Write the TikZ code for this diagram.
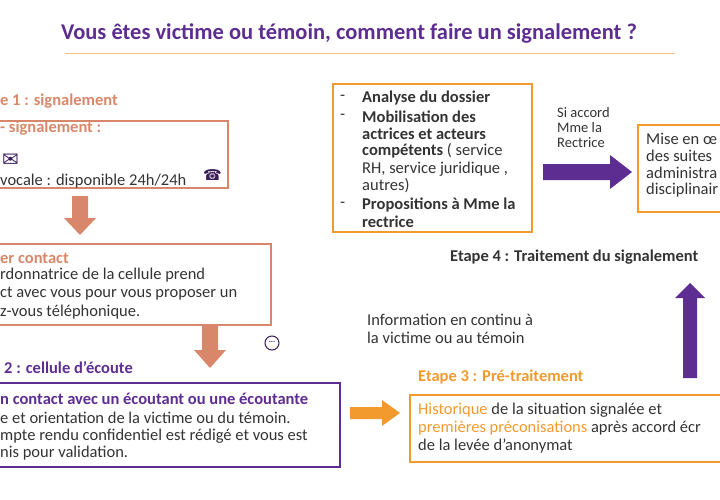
\documentclass[tikz,border=0pt]{standalone}
\usepackage{fontspec}
\setmainfont{Carlito}
\newfontfamily\djv{DejaVu Sans}
\begin{document}
\definecolor{pur}{HTML}{5E2D91}
\definecolor{sal}{HTML}{D9876A}
\definecolor{ora}{HTML}{F29A2E}
\definecolor{txt}{HTML}{333333}
\begin{tikzpicture}[x=1pt,y=-1pt,
  t/.style={anchor=west,inner sep=0,font=\fontsize{16.5}{19}\selectfont,text=txt},
  bt/.style={t,font=\fontsize{16.5}{19}\selectfont\bfseries,text=#1},
  box/.style={draw,line width=1.3pt}]
\useasboundingbox (0,0) rectangle (720,500);
\clip (0,0) rectangle (720,500);
\node[font=\fontsize{22.5}{24}\selectfont\bfseries,text=pur] (title) at (349,33) {Vous êtes victime ou témoin, comment faire un signalement ?};
\draw[ora!60,line width=0.8pt] (65,53) -- (675,53);
% Etape 1
\node[bt=sal] (e1) at (0,101) {e 1 : signalement};
\draw[box,sal] (-10,121) rectangle (228,188);
\node[bt=sal] (s1) at (0,128) {- signalement :};
\node[t,font=\djv\fontsize{20}{20}\selectfont,text=pur!60!black] (env) at (2,160) {✉};
\node[t] (voc) at (0,181) {vocale : disponible 24h/24h};
\node[t,font=\djv\fontsize{15}{16}\selectfont,text=pur!60!black] (ph) at (203,175) {☎};
\fill[sal] (72,196) -- (88,196) -- (88,218) -- (96,218) -- (80,235) -- (64,218) -- (72,218) -- cycle;
% box 2
\draw[box,sal] (-10,244) rectangle (271,325);
\node[bt=sal] (c1) at (0,258) {er contact};
\node[t] (c2) at (0,275) {rdonnatrice de la cellule prend};
\node[t] (c3) at (0,294) {ct avec vous pour vous proposer un};
\node[t] (c4) at (0,312) {z-vous téléphonique.};
\fill[sal] (202,325) -- (218,325) -- (218,350) -- (226,350) -- (210,368) -- (194,350) -- (202,350) -- cycle;
\draw[pur!60!black,line width=1pt] (272,343) circle (7pt);
\node[font=\fontsize{8}{8}\selectfont\bfseries,text=pur!60!black] (chat) at (272,342) {...};
% Etape 2
\node[bt=pur] (e2) at (4,368) {2 :  cellule d’écoute};
\draw[box,pur] (-10,383) rectangle (340,467);
\node[bt=pur] (d1) at (0,399) {n contact avec un écoutant ou une écoutante};
\node[t] (d2) at (0,418) {e et orientation de la victime ou du témoin.};
\node[t] (d3) at (0,436) {mpte rendu confidentiel est rédigé et vous est};
\node[t] (d4) at (0,453) {nis pour validation.};
\fill[ora] (350,407) -- (382,407) -- (382,400) -- (400,413) -- (382,426) -- (382,419) -- (350,419) -- cycle;
% Etape 3
\node[bt=ora] (e3) at (418,377) {Etape 3 : Pré-traitement};
\draw[box,ora] (410,395) rectangle (730,462);
\node[t] (h1) at (418,410) {\textcolor{ora}{Historique} de la situation signalée et};
\node[t] (h2) at (418,428) {\textcolor{ora}{premières préconisations} après accord écr};
\node[t] (h3) at (418,446) {de la levée d’anonymat};
\node[t] (i1) at (367,320) {Information en continu à};
\node[t] (i2) at (367,338) {la victime ou au témoin};
% arrow up
\fill[pur] (683,378) -- (697,378) -- (697,298) -- (705,298) -- (690,283) -- (675,298) -- (683,298) -- cycle;
\node[bt=txt] (e4) at (450,257) {Etape 4 : Traitement du signalement};
% box 5
\draw[box,ora] (333,84) rectangle (532,232);
\node[t] (b1) at (340,98) {-};
\node[bt=txt] (l1) at (362,98) {Analyse du dossier};
\node[t] (b2) at (340,117) {-};
\node[bt=txt] (l2) at (362,117) {Mobilisation des};
\node[bt=txt] (l3) at (362,134) {actrices et acteurs};
\node[t] (l4) at (362,151) {\textbf{compétents} ( service};
\node[t] (l5) at (362,169) {RH, service juridique ,};
\node[t] (l6) at (362,186) {autres)};
\node[t] (b3) at (340,205) {-};
\node[bt=txt] (l7) at (362,205) {Propositions à Mme la};
\node[bt=txt] (l8) at (362,222) {rectrice};
\node[t,align=left,font=\fontsize{14.5}{15}\selectfont] (si) at (557,128) {Si accord\\Mme la\\Rectrice};
\fill[pur] (543,164) -- (610,164) -- (610,155) -- (632,172) -- (610,189) -- (610,180) -- (543,180) -- cycle;
\draw[box,ora] (638,125) rectangle (730,212);
\node[t] (m1) at (646,139) {Mise en œ};
\node[t] (m2) at (646,156) {des suites};
\node[t] (m3) at (646,173) {administra};
\node[t] (m4) at (646,190) {disciplinair};
\end{tikzpicture}
\end{document}
